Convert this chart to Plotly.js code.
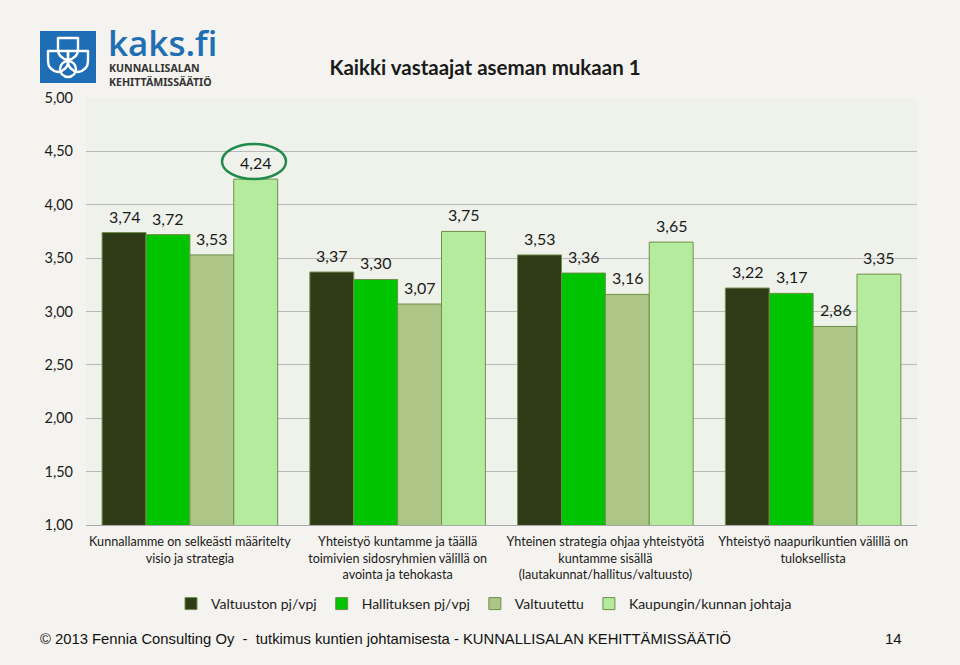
<!DOCTYPE html>
<html>
<head>
<meta charset="utf-8">
<script src="https://cdn.plot.ly/plotly-3.0.1.min.js"></script>
<style>
  html, body { margin: 0; padding: 0; background: #f5f3ef; }
  #chart { width: 960px; height: 665px; }
</style>
</head>
<body>
<div id="chart"></div>
<script>
// --- data ---
const categories = [
    'Kunnallamme on selkeästi määritelty<br>visio ja strategia',
    'Yhteistyö kuntamme ja täällä<br>toimivien sidosryhmien välillä on<br>avointa ja tehokasta',
    'Yhteinen strategia ohjaa yhteistyötä<br>kuntamme sisällä<br>(lautakunnat/hallitus/valtuusto)',
    'Yhteistyö naapurikuntien välillä on<br>tuloksellista'
];
const seriesNames = ['Valtuuston pj/vpj', 'Hallituksen pj/vpj', 'Valtuutettu', 'Kaupungin/kunnan johtaja'];
const valtuustonPj = [3.74, 3.37, 3.53, 3.22];
const hallituksenPj = [3.72, 3.30, 3.36, 3.17];
const valtuutettu = [3.53, 3.07, 3.16, 2.86];
const johtaja = [4.24, 3.75, 3.65, 3.35];
const seriesColors = ['#2f3a17', '#00c400', '#adc688', '#b4eb9c'];
const yTicks = [1, 1.5, 2, 2.5, 3, 3.5, 4, 4.5, 5];

// plot area in pixels: x 86..917, y 98..525
const PL = 86, PR = 917, PT = 98, PB = 525;
const px = x => (x - PL) / (PR - PL);
const py = y => (PB - y) / (PB - PT);

const BARGAP = 0.155;
const allSeries = [valtuustonPj, hallituksenPj, valtuutettu, johtaja];
const barW = (1 - BARGAP) / allSeries.length;

const fmt = v => v.toFixed(2).replace('.', ',');

const traces = allSeries.map((vals, i) => ({
    type: 'bar',
    name: seriesNames[i],
    x: categories,
    y: vals,
    marker: { color: seriesColors[i], line: { color: '#6f8f4a', width: 1 } },
    hoverinfo: 'none'
}));

// value labels sit a bit above each bar, like the excel original
const valueLabels = [];
allSeries.forEach((vals, i) => {
    vals.forEach((v, c) => {
        valueLabels.push({
            xref: 'x', yref: 'y',
            x: c + (i - (allSeries.length - 1) / 2) * barW,
            y: v,
            text: fmt(v),
            xanchor: 'center', yanchor: 'bottom',
            yshift: 5,
            showarrow: false,
            font: { family: 'Lato, sans-serif', size: 16, color: '#1a1a1a' }
        });
    });
});

// logo icon as a small inline svg
const logoSvg =
    '<svg xmlns="http://www.w3.org/2000/svg" width="56" height="52" viewBox="0 0 56 52">' +
    '<rect width="56" height="52" fill="#1e6db5"/>' +
    '<g fill="none" stroke="#fff" stroke-width="2.4" stroke-linejoin="round">' +
    '<path d="M18,7 H38 V18 Q38,27 28,29 Q18,27 18,18 Z"/>' +
    '<path d="M8,20 H28 V30 Q28,39 18,41 Q8,39 8,30 Z"/>' +
    '<path d="M28,20 H48 V30 Q48,39 38,41 Q28,39 28,30 Z"/>' +
    '<circle cx="28" cy="38" r="8"/>' +
    '</g></svg>';

const layout = {
    width: 960,
    height: 665,
    paper_bgcolor: '#f5f3ef',
    plot_bgcolor: '#eff2ea',
    margin: { l: PL, r: 960 - PR, t: PT, b: 665 - PB, pad: 0 },
    barmode: 'group',
    bargap: BARGAP,
    bargroupgap: 0,
    separators: ', ',
    font: { family: 'Lato, sans-serif', color: '#1a1a1a' },
    title: {
        text: '<b>Kaikki vastaajat aseman mukaan 1</b>',
        font: { family: 'Lato, sans-serif', size: 20.5, color: '#1a1a1a' },
        xref: 'container', yref: 'container',
        x: 485 / 960, y: 1 - 68 / 665,
        xanchor: 'center', yanchor: 'middle'
    },
    xaxis: {
        type: 'category',
        showgrid: false,
        showline: true,
        linecolor: '#a9a9a9',
        linewidth: 1,
        ticks: '',
        tickfont: { family: 'Lato, sans-serif', size: 12.6, color: '#1a1a1a' },
        ticklabelstandoff: 5,
        fixedrange: true
    },
    yaxis: {
        range: [1, 5],
        tickvals: yTicks,
        tickformat: '.2f',
        showgrid: true,
        gridcolor: '#b9b9b9',
        gridwidth: 1,
        zeroline: false,
        showline: false,
        ticks: '',
        tickfont: { family: 'Lato, sans-serif', size: 14.5, color: '#1a1a1a' },
        ticklabelstandoff: 12,
        fixedrange: true
    },
    showlegend: true,
    legend: {
        orientation: 'h',
        x: px(484), y: py(604),
        xanchor: 'center', yanchor: 'middle',
        font: { family: 'Lato, sans-serif', size: 14, color: '#1a1a1a' },
        bgcolor: 'rgba(0,0,0,0)',
        itemwidth: 30,
        traceorder: 'normal'
    },
    shapes: [{
        type: 'circle',
        xref: 'paper', yref: 'paper',
        x0: px(222), x1: px(286), y0: py(179), y1: py(144),
        line: { color: '#1f8a4c', width: 2.5 }
    }],
    images: [{
        source: 'data:image/svg+xml;charset=utf-8,' + encodeURIComponent(logoSvg),
        xref: 'paper', yref: 'paper',
        x: px(40), y: py(31),
        sizex: 56 / (PR - PL), sizey: 52 / (PB - PT),
        sizing: 'stretch',
        xanchor: 'left', yanchor: 'top',
        layer: 'above'
    }],
    annotations: valueLabels.concat([
        {
            text: 'kaks.fi', xref: 'paper', yref: 'paper',
            x: px(106), y: py(42), xanchor: 'left', yanchor: 'middle',
            showarrow: false,
            font: { family: 'Open Sans, sans-serif', size: 35, weight: 600, color: '#1f6fb2' }
        },
        {
            text: '<b>KUNNALLISALAN<br>KEHITTÄMISSÄÄTIÖ</b>', xref: 'paper', yref: 'paper',
            x: px(107), y: py(75), xanchor: 'left', yanchor: 'middle', align: 'left',
            showarrow: false,
            font: { family: 'Noto Sans, sans-serif', size: 10.6, color: '#333333' }
        },
        {
            text: '© 2013 Fennia Consulting Oy \u00a0-\u00a0 tutkimus kuntien johtamisesta - KUNNALLISALAN KEHITTÄMISSÄÄTIÖ',
            xref: 'paper', yref: 'paper',
            x: px(38), y: py(638), xanchor: 'left', yanchor: 'middle',
            showarrow: false,
            font: { family: 'Liberation Sans, Arial, sans-serif', size: 14.8, color: '#111111' }
        },
        {
            text: '14', xref: 'paper', yref: 'paper',
            x: px(893), y: py(638), xanchor: 'center', yanchor: 'middle',
            showarrow: false,
            font: { family: 'Liberation Sans, Arial, sans-serif', size: 15, color: '#111111' }
        }
    ])
};

Plotly.newPlot('chart', traces, layout, { displayModeBar: false, staticPlot: true });
</script>
</body>
</html>
